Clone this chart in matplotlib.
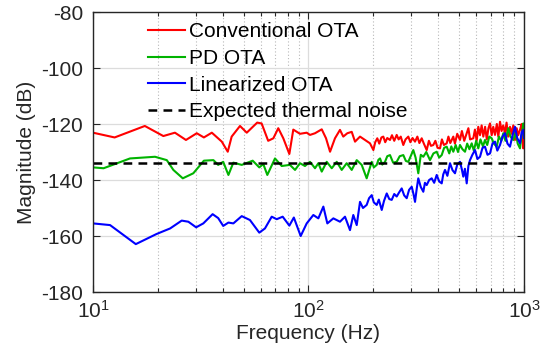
import matplotlib.pyplot as plt
from matplotlib.ticker import LogLocator, NullFormatter

plt.rcParams["font.family"] = ["Liberation Sans", "DejaVu Sans"]
plt.rcParams["mathtext.fontset"] = "custom"
plt.rcParams["mathtext.rm"] = "Liberation Sans"
plt.rcParams["axes.unicode_minus"] = False

# Conventional OTA (red)
f_conv = [10.0, 12.6, 17.4, 21.2, 24.0, 27.0, 30.3, 32.7, 35.6, 39.6, 42.2, 44.0,
          48.1, 51.7, 57.8, 60.6, 65.0, 68.7, 72.4, 76.4, 81.5, 85.0, 91.3, 98.1,
          101.6, 107.2, 115.2, 120.6, 125.9, 132.7, 140.0, 145.0, 151.4, 158.7,
          164.4, 173.4, 182.9, 192.9, 200, 204, 208.6, 213, 218, 222.4, 227, 232,
          238.9, 244, 250, 256.6, 262, 268, 275.4, 282, 290.5, 297, 304, 312.1,
          320, 327, 335.2, 343, 353.6, 362, 370, 379.4, 388, 397, 407.6, 416, 425,
          437.9, 446, 455, 469.8, 478, 490, 504.7, 515, 528, 542.2, 552, 562,
          581.8, 592, 603, 613.7, 625, 636, 647.4, 660, 672, 684, 695.4, 708, 720,
          733.5, 748, 760, 773.8, 787, 801, 816.3, 830, 845, 861, 876, 891.9,
          908.3, 925, 940, 958.2, 975, 985, 992.7, 1000]
db_conv = [-123.1, -124.8, -120.7, -124.3, -123.1, -125.7, -123.3, -124.8, -123.1,
           -126.3, -129.9, -124.5, -120.7, -123.1, -119.5, -119.8, -126.0, -125.1,
           -121.5, -125.1, -130.7, -122.0, -123.5, -123.1, -123.9, -123.3, -121.9,
           -125.1, -129.9, -125.1, -122.1, -124.5, -123.3, -122.8, -126.3, -124.5,
           -125.7, -126.9, -129.3, -126.5, -125.1, -127.0, -124.8, -124.5, -126.5,
           -125.0, -125.7, -124.0, -126.0, -123.9, -125.5, -124.5, -127.5, -125.5,
           -124.5, -126.5, -125.0, -126.3, -124.5, -126.8, -125.1, -127.0, -129.3,
           -126.0, -127.8, -127.5, -126.0, -128.5, -128.7, -125.5, -127.5, -126.9,
           -124.5, -126.8, -124.5, -127.0, -123.5, -125.7, -122.5, -126.0, -123.3,
           -121.5, -125.5, -125.1, -122.0, -126.0, -121.0, -124.0, -120.5, -124.5,
           -121.0, -125.5, -121.5, -119.8, -124.0, -121.0, -123.9, -120.0, -124.5,
           -119.2, -122.5, -120.5, -123.3, -119.5, -124.5, -121.0, -123.5, -120.5,
           -125.7, -121.5, -124.0, -122.1, -120.0, -125.0, -128.7, -125.5]

# PD OTA (green)
f_pd = [10.0, 11.2, 14.85, 19.4, 22.0, 23.6, 26.1, 29.2, 32.7, 36.2, 38.1, 40.2,
        42.5, 44.8, 49.0, 55.1, 59.1, 61.7, 64.4, 69.9, 75.1, 82.0, 86.6, 91.3,
        96.3, 101.6, 107.2, 111.1, 115.2, 121.5, 128.2, 135.2, 142.6, 150.4, 158.7,
        167.4, 176.6, 186.2, 196.5, 201, 207.3, 211, 214.7, 220, 226.5, 232, 238.9,
        247, 256.6, 265, 275.4, 283, 290.5, 298, 306.4, 314, 323.2, 332, 341, 352,
        366.3, 380, 393.5, 404, 415.1, 426, 437.9, 450, 460, 469.8, 482, 494, 504.7,
        518, 532.4, 545, 558, 571.9, 585, 600, 613.7, 628, 645, 659.2, 675, 690,
        708.1, 725, 747, 765, 785, 801.6, 820, 845.6, 865, 891.9, 915, 935, 958.2,
        975, 992.7, 1000]
db_pd = [-135.5, -135.8, -132.3, -131.7, -132.9, -136.4, -139.4, -137.6, -133.1,
         -132.9, -134.6, -133.5, -138.2, -133.8, -134.6, -133.1, -135.5, -134.3,
         -138.2, -132.3, -135.0, -134.6, -136.4, -134.0, -135.0, -133.5, -135.8,
         -134.0, -137.0, -133.5, -135.8, -133.5, -136.4, -134.0, -136.4, -132.9,
         -134.6, -139.4, -133.5, -135.5, -134.6, -132.8, -132.3, -134.5, -133.5,
         -131.5, -131.1, -133.8, -133.5, -131.5, -131.1, -133.2, -133.5, -131.5,
         -129.3, -132.0, -137.6, -131.0, -131.7, -130.0, -132.9, -130.5, -129.9,
         -132.0, -131.1, -128.5, -128.1, -130.5, -128.0, -129.9, -127.5, -130.0,
         -127.5, -129.0, -129.9, -127.0, -129.0, -126.9, -129.5, -126.0, -128.7,
         -125.5, -128.0, -125.7, -127.5, -124.5, -125.1, -127.0, -128.1, -124.5,
         -126.0, -123.3, -126.0, -121.5, -124.5, -125.7, -123.0, -127.0, -128.7,
         -124.0, -119.8, -122.0]

# Linearized OTA (blue)
f_lin = [10.0, 12.0, 15.8, 19.7, 22.8, 25.8, 27.7, 30.1, 32.5, 35.9, 38.1, 40.2,
         42.5, 44.8, 49.0, 53.5, 59.1, 62.8, 67.5, 71.2, 75.9, 81.5, 85.5, 92.0,
         98.1, 105.3, 111.1, 117.2, 122.3, 130.4, 140.0, 147.7, 155.8, 161.4, 167.4,
         173.4, 179, 186.2, 191, 196.5, 201, 207.3, 212, 218.7, 224, 230.7, 237,
         243.3, 250, 256.6, 263, 270.7, 278, 285.6, 293, 301.3, 307, 312.1, 318,
         323.2, 332, 341, 347, 353.6, 363, 373, 383, 393.5, 404, 415.1, 422, 430,
         441, 453.6, 466, 478.4, 490, 504.7, 514, 522.8, 532, 542.2, 552, 561.6,
         576, 592.4, 608, 625, 642, 659.2, 677, 695.4, 714, 733.5, 752, 773.8, 795,
         816.3, 838, 861, 885, 908.3, 930, 958.2, 975, 992.7, 1000]
db_lin = [-155.5, -156.1, -162.9, -159.3, -157.3, -154.5, -154.9, -156.9, -155.5,
          -152.2, -153.6, -156.4, -155.2, -155.5, -152.9, -154.3, -158.8, -157.3,
          -153.1, -154.0, -153.1, -156.3, -153.4, -160.0, -155.5, -152.5, -153.7,
          -149.5, -155.5, -153.7, -154.9, -153.1, -157.9, -152.5, -156.1, -147.8,
          -150.0, -148.9, -146.5, -145.4, -148.0, -148.9, -147.0, -150.7, -147.5,
          -144.8, -146.8, -147.1, -145.0, -145.9, -144.5, -143.0, -145.5, -146.5,
          -143.5, -142.4, -145.0, -147.8, -143.0, -139.4, -142.5, -144.2, -141.0,
          -141.8, -140.0, -139.4, -141.0, -138.2, -140.5, -141.2, -138.0, -136.4,
          -138.5, -134.0, -136.5, -137.6, -134.5, -133.5, -136.0, -138.8, -136.0,
          -141.2, -135.0, -132.9, -131.0, -129.3, -132.5, -131.7, -128.5, -128.1,
          -131.0, -130.5, -127.0, -126.3, -129.5, -127.5, -124.5, -123.3, -127.0,
          -128.1, -124.0, -121.0, -125.0, -126.9, -123.0, -122.1, -125.0]

# Expected thermal noise level
f_th = [10, 1000]
db_th = [-133.8, -133.8]

fig = plt.figure(figsize=(5.48, 3.64), dpi=100)
ax = fig.add_axes([0.1697, 0.1978, 0.7865, 0.7692])

ax.semilogx(f_conv, db_conv, color=(1, 0, 0), lw=1.5, label="Conventional OTA")
ax.semilogx(f_pd, db_pd, color=(0, 0.7, 0), lw=1.5, label="PD OTA")
ax.semilogx(f_lin, db_lin, color=(0, 0, 1), lw=1.5, label="Linearized OTA")
ax.semilogx(f_th, db_th, "k--", lw=1.8, dashes=(3.5, 2.5), label="Expected thermal noise")

ax.set_xlim(10, 1000)
ax.set_ylim(-180, -80)
ax.set_yticks([-180, -160, -140, -120, -100, -80])
ax.xaxis.set_minor_locator(LogLocator(base=10, subs=range(2, 10)))
ax.xaxis.set_minor_formatter(NullFormatter())

ax.grid(True, which="major", color="#dcdcdc", lw=0.9, ls="-")
ax.grid(True, which="minor", axis="x", color="#b8b8b8", lw=0.8, ls=(0, (1, 2)))
ax.set_axisbelow(True)

ax.tick_params(which="both", direction="in", top=True, right=True,
               colors="#262626", labelsize=15, width=0.8)
ax.tick_params(which="major", length=5)
ax.tick_params(which="minor", length=3)
ax.tick_params(axis="y", pad=7)
ax.tick_params(axis="x", pad=6)
for s in ax.spines.values():
    s.set_color("#262626")
    s.set_linewidth(1.0)

ax.set_xlabel("Frequency (Hz)", fontsize=15, color="#262626", labelpad=1)
ax.set_ylabel("Magnitude (dB)", fontsize=15, color="#262626", labelpad=4)

ax.legend(loc="upper left", bbox_to_anchor=(0.127, 0.964), frameon=False,
          fontsize=15, handlelength=1.78, handletextpad=0.2, labelspacing=0.37,
          borderpad=0, borderaxespad=0)

fig.savefig("out.png", dpi=100)
